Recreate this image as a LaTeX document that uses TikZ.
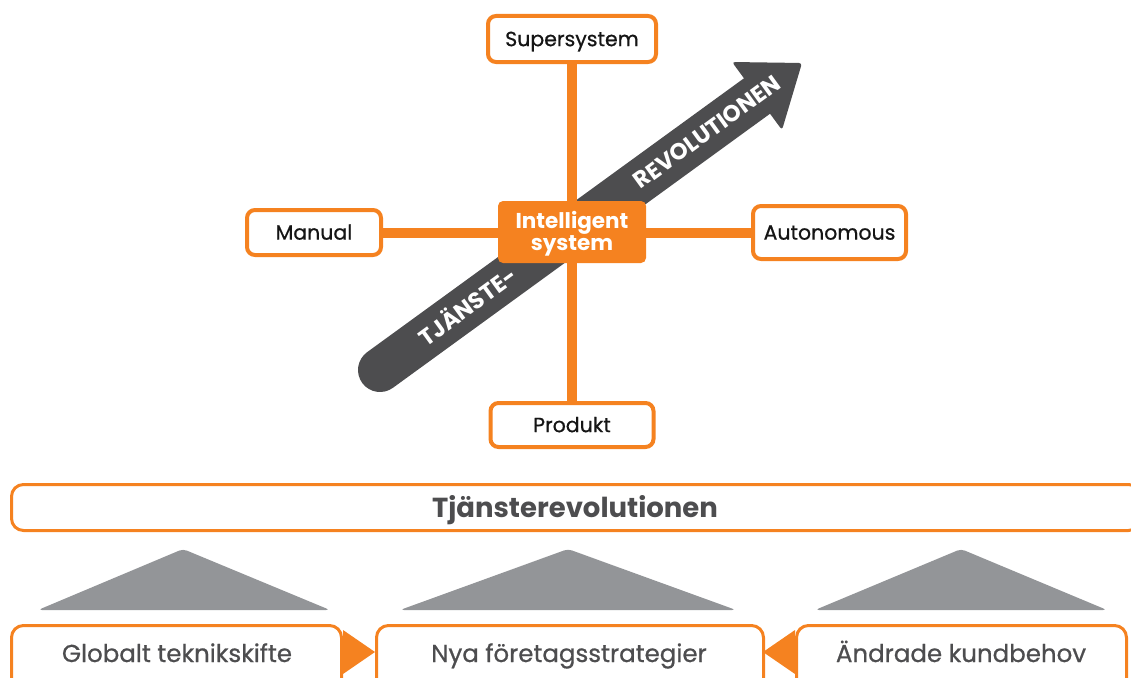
\documentclass[tikz,border=0pt]{standalone}
\usepackage{fontspec}
\setmainfont{Poppins}
\newfontfamily\medfont{Poppins}[FakeBold=0.7]
\usetikzlibrary{backgrounds}

\definecolor{accent}{HTML}{F58220}
\definecolor{band}{HTML}{4D4D4F}
\definecolor{roofgray}{HTML}{939598}
\definecolor{ink}{HTML}{151515}
\definecolor{slate}{HTML}{4D4D4F}

\begin{document}
\begin{tikzpicture}[x=1pt,y=-1pt,
  topbox/.style={draw=accent, line width=4pt, fill=white, rounded corners=8pt,
    inner sep=0pt, text=ink, text height=14.3pt, text depth=0pt,
    font=\medfont\fontsize{20.5}{22}\selectfont},
  corebox/.style={fill=accent, rounded corners=5pt, inner sep=0pt, text=white,
    align=center, font=\bfseries\fontsize{21.5}{20.5}\selectfont},
  axis/.style={draw=accent, line width=10pt},
  bandtext/.style={text=white, rotate=36, inner sep=0pt,
    text height=16.1pt, text depth=0pt,
    font=\bfseries\fontsize{23}{24}\selectfont},
  frame/.style={draw=accent, line width=3pt, fill=white, rounded corners=12pt, inner sep=0pt},
  caption/.style={text=slate, inner sep=0pt, text height=17pt, text depth=0pt,
    font=\medfont\fontsize{24.5}{26}\selectfont},
  roof/.style={fill=roofgray, rounded corners=4pt},
  pointer/.style={fill=accent}]

\useasboundingbox (0,0) rectangle (1131,677);
\clip (0,0) rectangle (1131,677);

% four directions around the core
\node[topbox, minimum width=168pt, minimum height=46pt] (sup) at (572,39) {Supersystem};
\node[topbox, minimum width=163pt, minimum height=44pt] (prod) at (572,425) {Produkt};
\node[topbox, minimum width=134pt, minimum height=45pt] (man) at (314,232.5) {Manual};
\node[topbox, minimum width=153pt, minimum height=53pt] (aut) at (829.5,232.5) {Autonomous};
\node[corebox, minimum width=148pt, minimum height=62pt] (core) at (572,232) {};
\node[text=white, inner sep=0pt, align=center, font=\bfseries\fontsize{21.5}{20.5}\selectfont]
  (coretxt) at (572,233.5) {Intelligent\\system};

% the diagonal trend arrow and the two axes, behind the boxes
\begin{pgfonlayer}{background}
  \coordinate (tail) at (380,370);
  \coordinate (neck) at (757,96);
  \draw[band, line width=44pt, line cap=round] (tail) -- (neck);
  \fill[band, rounded corners=3pt] (802,63) -- (782,130) -- (732,62) -- cycle;
  \node[bandtext] (tj) at (468,307) {TJÄNSTE-};
  \node[bandtext] (rev) at (707,132) {REVOLUTIONEN};
  \draw[axis] (sup) -- (prod);
  \draw[axis] (man) -- (aut);
\end{pgfonlayer}

% bottom banner
\node[frame, minimum width=1129pt, minimum height=46pt] (banner) at (576,507.5) {};
\node[text=slate, inner sep=0pt, text height=19.4pt, text depth=0pt,
  font=\bfseries\fontsize{27.5}{30}\selectfont]
  (bannertxt) at (575,507.5) {Tjänsterevolutionen};

% roofs
\fill[roof] (183,549) -- (330,610) -- (38,610) -- cycle;
\fill[roof] (568,549) -- (736,610) -- (400,610) -- cycle;
\fill[roof] (961,549) -- (1107,610) -- (815,610) -- cycle;

% driver boxes
\node[frame, minimum width=330pt, minimum height=80pt] (glob) at (176.5,665.5) {};
\node[frame, minimum width=387pt, minimum height=80pt] (nya) at (570,665.5) {};
\node[frame, minimum width=330pt, minimum height=80pt] (andr) at (961.5,665.5) {};
\node[caption] (globtxt) at (177,653.5) {Globalt teknikskifte};
\node[caption] (nyatxt) at (569,653.5) {Nya företagsstrategier};
\node[caption] (andrtxt) at (961,653.5) {Ändrade kundbehov};

% pointers into the middle box
\fill[pointer] (343,630) -- (375,652) -- (343,674) -- cycle;
\fill[pointer] (795,630) -- (763,652) -- (795,674) -- cycle;

\end{tikzpicture}
\end{document}
